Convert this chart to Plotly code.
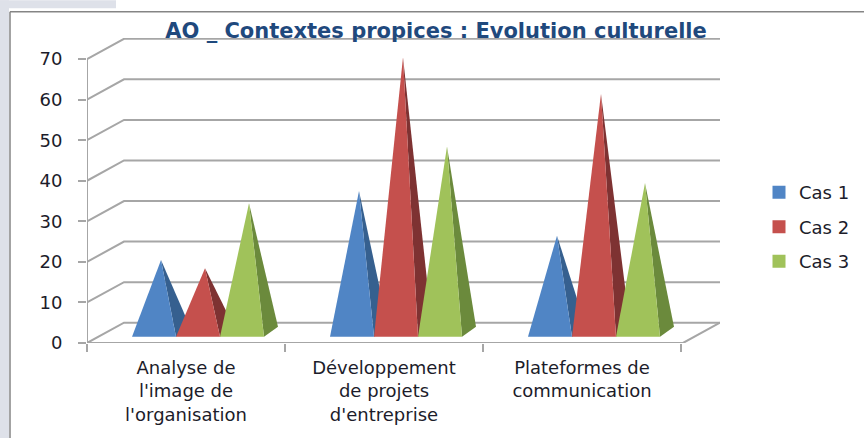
import plotly.graph_objects as go

# data
categories = ["Analyse de<br>l'image de<br>l'organisation",
              "Développement<br>de projets<br>d'entreprise",
              "Plateformes de<br>communication"]
series_names = ["Cas 1", "Cas 2", "Cas 3"]
cas_1 = [18, 35, 24]
cas_2 = [16, 68, 59]
cas_3 = [32, 46, 37]
y_ticks = [0, 10, 20, 30, 40, 50, 60, 70]

front_colors = ["#5085c5", "#c5504d", "#a0c25a"]
side_colors = ["#36608f", "#7e3232", "#6b8a3c"]
grid_color = "#a6a6a6"
text_color = "#1c1c2a"

# plot area in pixels, the y axis is the front plane of the 3d box
W, H = 864, 438
left, right, top, bottom = 87, 720, 37.7, 343
px_per_cat = 198
px_per_unit = 4.06
x_max = (right - left) / px_per_cat
y_max = (bottom - top) / px_per_unit

# oblique depth of the box and of the pyramid bases
box_dx = 37 / px_per_cat
box_dy = 5.0
bar_w = 44 / px_per_cat
bar_start = 45 / px_per_cat
base_front = 1.55
base_back = 4.0
base_dx = 14 / px_per_cat
apex_lift = 2.46

fig = go.Figure()


def add_line(xs, ys, width=2):
    fig.add_trace(go.Scatter(x=xs, y=ys, mode="lines", showlegend=False, hoverinfo="skip",
                             line=dict(color=grid_color, width=width)))


# back wall, side wall, floor
for v in y_ticks:
    add_line([0, box_dx, x_max], [v, v + box_dy, v + box_dy])
add_line([0, 0], [0, y_ticks[-1]])
add_line([0, x_max - box_dx, x_max], [0, 0, box_dy])

# pyramids, one per series inside each category
for c in range(len(categories)):
    for s, values in enumerate([cas_1, cas_2, cas_3]):
        x0 = c + bar_start + s * bar_w
        x1 = x0 + bar_w
        ax = x0 + bar_w / 2 + base_dx / 2
        ay = values[c] + apex_lift
        fig.add_trace(go.Scatter(x=[ax, x1, x1 + base_dx, ax], y=[ay, base_front, base_back, ay],
                                 mode="lines", fill="toself", fillcolor=side_colors[s],
                                 line=dict(width=0), showlegend=False, hoverinfo="skip"))
        fig.add_trace(go.Scatter(x=[x0, x1, ax, x0], y=[base_front, base_front, ay, base_front],
                                 mode="lines", fill="toself", fillcolor=front_colors[s],
                                 line=dict(width=0), showlegend=False,
                                 name=series_names[s], text=series_names[s], hoverinfo="text"))

# legend only traces
for s, name in enumerate(series_names):
    fig.add_trace(go.Scatter(x=[None], y=[None], mode="markers", name=name, legendgroup=name,
                             marker=dict(symbol="square", size=13, color=front_colors[s])))


def px_x(p):
    return (p - left) / (right - left)


def px_y(p):
    return (bottom - p) / (bottom - top)


frame = "#858585"
shapes = [
    dict(type="rect", xref="paper", yref="paper", x0=px_x(0), x1=px_x(9), y0=px_y(438), y1=px_y(0),
         fillcolor="#dee1e9", line=dict(width=0), layer="below"),
    dict(type="rect", xref="paper", yref="paper", x0=px_x(0), x1=px_x(116), y0=px_y(8), y1=px_y(0),
         fillcolor="#dee1e9", line=dict(width=0), layer="below"),
    dict(type="line", xref="paper", yref="paper", x0=px_x(10), x1=px_x(864), y0=px_y(11.5), y1=px_y(11.5),
         line=dict(color=frame, width=1.5), layer="below"),
    dict(type="line", xref="paper", yref="paper", x0=px_x(10), x1=px_x(10), y0=px_y(438), y1=px_y(11.5),
         line=dict(color=frame, width=1.5), layer="below"),
]

fig.update_layout(
    width=W, height=H,
    margin=dict(l=left, r=W - right, t=top, b=H - bottom, pad=0, autoexpand=False),
    paper_bgcolor="white", plot_bgcolor="white",
    shapes=shapes,
    title=dict(text="<b>AO _ Contextes propices : Evolution culturelle</b>", x=436 / W, xref="container",
               xanchor="center", y=1 - 31 / H, yref="container", yanchor="middle",
               font=dict(family="DejaVu Sans", size=21, color="#1f497d")),
    legend=dict(x=px_x(759), y=px_y(174), xanchor="left", yanchor="top", traceorder="grouped",
                tracegroupgap=8, bgcolor="rgba(0,0,0,0)",
                font=dict(family="DejaVu Sans", size=18, color=text_color)),
    font=dict(family="DejaVu Sans", size=18, color=text_color),
    hovermode="closest",
)
fig.update_xaxes(range=[0, x_max], tickmode="array", tickvals=[0.5, 1.5, 2.5], ticktext=categories,
                 ticks="", ticklen=0, showgrid=False, zeroline=False, showline=False, fixedrange=True,
                 tickangle=0, ticklabelstandoff=12,
                 minor=dict(tickmode="array", tickvals=[0, 1, 2, 3], ticks="outside", ticklen=8,
                            tickwidth=2, tickcolor=grid_color, showgrid=False))
fig.update_yaxes(range=[0, y_max], tickmode="array", tickvals=y_ticks, ticks="outside", ticklen=8,
                 tickwidth=2, tickcolor=grid_color, showgrid=False, zeroline=False, showline=False,
                 fixedrange=True, ticklabelstandoff=12)

# the page's default body margin would push the chart 8px off
fig.write_html("out.html", config=dict(displayModeBar=False),
               post_script="document.body.style.margin='0';")
